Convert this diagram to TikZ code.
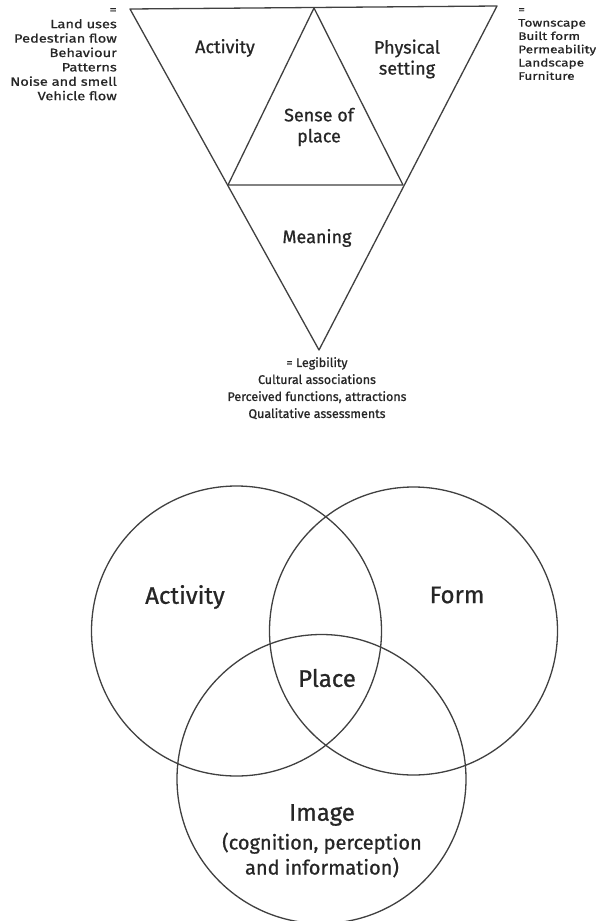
\documentclass[tikz,border=0pt]{standalone}
\usepackage{fontspec}
\setmainfont[FakeBold=0.8]{Fira Sans}
\newfontfamily\leftlistfont[FakeBold=0.8, FakeStretch=1.22]{Fira Sans}
\newfontfamily\rightlistfont[FakeBold=0.8, FakeStretch=1.24]{Fira Sans}
\begin{document}
\begin{tikzpicture}[x=1pt,y=-1pt,
  edge/.style={draw=black!75, line width=1.3pt, line join=round},
  lbl/.style={text=black!85, font=\fontsize{18}{21}\selectfont, align=center, inner sep=0pt},
  note/.style={text=black!85, inner sep=0pt},
  big/.style={text=black!85, font=\fontsize{24}{28}\selectfont, align=center, inner sep=0pt},
  sub/.style={text=black!85, font=\fontsize{20}{25}\selectfont, align=center, inner sep=0pt}]
\useasboundingbox (0,0) rectangle (596,921);
\fill[white] (0,0) rectangle (596,921);

% inverted triangle and its inner triangle
\coordinate (tl) at (130,9);
\coordinate (tm) at (314,8);
\coordinate (tr) at (497,6);
\coordinate (bt) at (319,350);
\coordinate (ml) at (228,185);
\coordinate (mr) at (403,185);
\draw[edge] (tl) -- (tr) -- (bt) -- cycle;
\draw[edge] (tm) -- (ml) -- (mr) -- cycle;

\node[lbl] (act) at (225,48) {Activity};
\node[lbl] (phys) at (407,59) {Physical\\setting};
\node[lbl] (sense) at (319,127) {Sense of\\place};
\node[lbl] (mean) at (317,238) {Meaning};

% side lists
\node[note, anchor=north east, align=right, font=\leftlistfont\fontsize{12}{14.4}\selectfont] (leftlist) at (117,8)
  {=\\Land uses\\Pedestrian flow\\Behaviour\\Patterns\\Noise and smell\\Vehicle flow};
\node[note, anchor=north west, align=left, font=\rightlistfont\fontsize{11}{13.3}\selectfont] (rightlist) at (518,8)
  {=\\Townscape\\Built form\\Permeability\\Landscape\\Furniture};
\node[note, anchor=north, align=center, font=\fontsize{12.5}{17}\selectfont] (botlist) at (317,357)
  {= Legibility\\Cultural associations\\Perceived functions, attractions\\Qualitative assessments};

% Venn diagram
\node[edge, circle, minimum size=290pt, inner sep=0pt] (cact) at (236.5,631) {};
\node[edge, circle, minimum size=288pt, inner sep=0pt] (cform) at (413.5,631) {};
\node[edge, circle, minimum size=289pt, inner sep=0pt] (cimg) at (321.5,779) {};

\node[big] (vact) at (185,597) {Activity};
\node[big] (vform) at (457,595) {Form};
\node[big] (vplace) at (327,678) {Place};
\node[big] (vimg) at (322,815) {Image};
\node[sub] (vsub) at (322,855) {(cognition, perception\\and information)};
\end{tikzpicture}
\end{document}
